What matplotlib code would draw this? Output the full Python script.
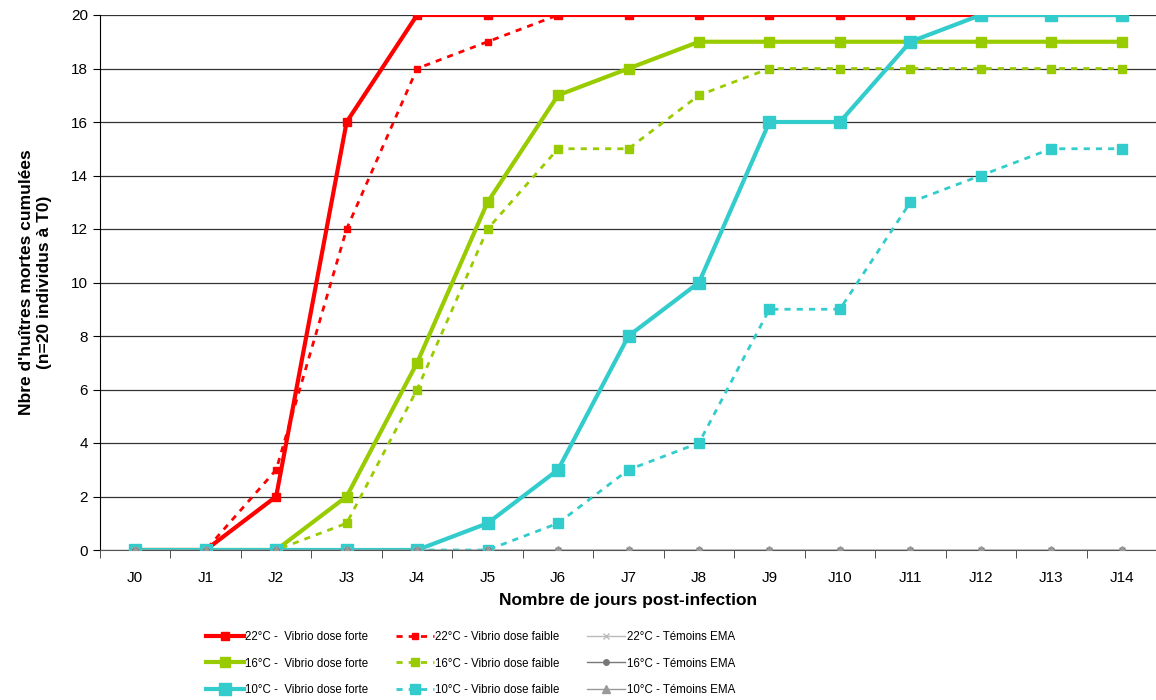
import matplotlib
matplotlib.use("Agg")
import matplotlib.pyplot as plt

plt.rcParams['font.family'] = ['Liberation Sans', 'DejaVu Sans']

days = ['J0', 'J1', 'J2', 'J3', 'J4', 'J5', 'J6', 'J7', 'J8', 'J9', 'J10', 'J11', 'J12', 'J13', 'J14']

forte_22 = [0, 0, 2, 16, 20, 20, 20, 20, 20, 20, 20, 20, 20, 20, 20]
forte_16 = [0, 0, 0, 2, 7, 13, 17, 18, 19, 19, 19, 19, 19, 19, 19]
forte_10 = [0, 0, 0, 0, 0, 1, 3, 8, 10, 16, 16, 19, 20, 20, 20]
faible_22 = [0, 0, 3, 12, 18, 19, 20, 20, 20, 20, 20, 20, 20, 20, 20]
faible_16 = [0, 0, 0, 1, 6, 12, 15, 15, 17, 18, 18, 18, 18, 18, 18]
faible_10 = [0, 0, 0, 0, 0, 0, 1, 3, 4, 9, 9, 13, 14, 15, 15]
temoins_22 = [0] * 15
temoins_16 = [0] * 15
temoins_10 = [0] * 15

red = '#ff0000'
green = '#99cc00'
cyan = '#33cccc'

fig = plt.figure(figsize=(11.56, 7), dpi=100)
ax = fig.add_axes([100 / 1156, 1 - 550 / 700, 1057 / 1156, 535 / 700])
x = list(range(len(days)))

dash = (2.2, 2.2)
h = []
h += ax.plot(x, faible_22, '--', dashes=dash, color=red, lw=2, marker='s', ms=5, label="22°C - Vibrio dose faible", zorder=3)
h += ax.plot(x, faible_16, '--', dashes=dash, color=green, lw=2, marker='s', ms=6, label="16°C - Vibrio dose faible", zorder=3)
h += ax.plot(x, faible_10, '--', dashes=dash, color=cyan, lw=2, marker='s', ms=6.5, label="10°C - Vibrio dose faible", zorder=3)
h += ax.plot(x, forte_22, '-', color=red, lw=3, marker='s', ms=6, label="22°C -  Vibrio dose forte", zorder=4)
h += ax.plot(x, forte_16, '-', color=green, lw=3, marker='s', ms=7, label="16°C -  Vibrio dose forte", zorder=4)
h += ax.plot(x, forte_10, '-', color=cyan, lw=3, marker='s', ms=8, label="10°C -  Vibrio dose forte", zorder=5)
h += ax.plot(x, temoins_22, '-', color='#bbbbbb', lw=1, marker='x', ms=5, label="22°C - Témoins EMA", zorder=6)
h += ax.plot(x, temoins_16, '-', color='#777777', lw=1, marker='o', ms=4, label="16°C - Témoins EMA", zorder=6)
h += ax.plot(x, temoins_10, '-', color='#999999', lw=1, marker='^', ms=6, label="10°C - Témoins EMA", zorder=7)

ax.set_xlim(-0.5, len(days) - 0.5)
ax.set_ylim(0, 20)
ax.set_yticks(range(0, 21, 2))
ax.yaxis.grid(True, color='#333333', lw=0.9)
ax.set_axisbelow(True)
ax.set_xticks(x)
ax.set_xticklabels(days, fontsize=11)
ax.set_xticks([i - 0.5 for i in range(len(days) + 1)], minor=True)
ax.tick_params(axis='x', which='major', length=0, pad=15)
ax.tick_params(axis='x', which='minor', length=6, color='#333333')
ax.tick_params(axis='y', labelsize=11, length=5)
for s in ['top', 'right']:
    ax.spines[s].set_visible(False)
ax.spines['bottom'].set_color('#555555')

ax.set_xlabel('Nombre de jours post-infection', fontsize=12.5, fontweight='bold', labelpad=6)
ax.set_ylabel("Nbre d'huîtres mortes cumulées\n(n=20 individus à T0)", fontsize=12.5, fontweight='bold', labelpad=14)

# legend laid out column by column: forte / faible / temoins
order = [h[3], h[4], h[5], h[0], h[1], h[2], h[6], h[7], h[8]]
fig.legend(handles=order, labels=[o.get_label() for o in order], ncol=3, loc='lower center',
           bbox_to_anchor=(0.407, -0.009), frameon=False, fontsize=8.3, handlelength=3.3,
           columnspacing=2.4, labelspacing=1.25, handletextpad=0.1)

fig.savefig('out.png', dpi=100)
